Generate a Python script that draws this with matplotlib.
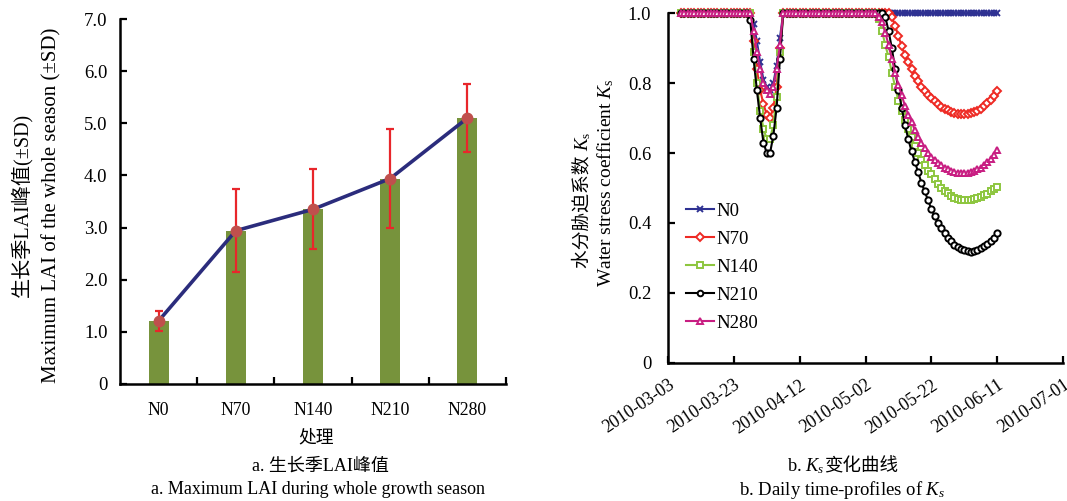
import numpy as np
import pandas as pd
import matplotlib
matplotlib.use('Agg')
import matplotlib.pyplot as plt
import matplotlib.dates as mdates

plt.rcParams['font.family'] = ['Liberation Serif', 'Noto Sans CJK SC']
plt.rcParams['mathtext.fontset'] = 'custom'
plt.rcParams['mathtext.rm'] = 'Liberation Serif'
plt.rcParams['mathtext.it'] = 'Liberation Serif:italic'

# panel a: peak LAI per treatment
treatments = ['N0', 'N70', 'N140', 'N210', 'N280']
lai_peak = [1.21, 2.94, 3.35, 3.94, 5.10]
lai_sd = [0.19, 0.80, 0.77, 0.95, 0.66]

# panel b: daily Ks, one value per day from ks_start
ks_start = '2010-03-07'
ks_n0 = [
    1.0, 1.0, 1.0, 1.0, 1.0, 1.0, 1.0,
    1.0, 1.0, 1.0, 1.0, 1.0, 1.0, 1.0,
    1.0, 1.0, 1.0, 1.0, 1.0, 1.0, 1.0,
    1.0, 0.97, 0.92, 0.86, 0.81, 0.79, 0.78, 0.80, 0.85, 0.93, 1.0,
    1.0, 1.0, 1.0, 1.0, 1.0, 1.0, 1.0, 1.0, 1.0,
    1.0, 1.0, 1.0, 1.0, 1.0, 1.0, 1.0, 1.0, 1.0,
    1.0, 1.0, 1.0, 1.0, 1.0, 1.0, 1.0, 1.0, 1.0,
    1.0, 1.0, 1.0, 1.0, 1.0, 1.0, 1.0, 1.0, 1.0, 1.0,
    1.0, 1.0, 1.0, 1.0, 1.0, 1.0, 1.0, 1.0, 1.0, 1.0,
    1.0, 1.0, 1.0, 1.0, 1.0, 1.0, 1.0, 1.0, 1.0, 1.0,
    1.0, 1.0, 1.0, 1.0, 1.0, 1.0, 1.0, 1.0,
]
ks_n70 = [
    1.0, 1.0, 1.0, 1.0, 1.0, 1.0, 1.0,
    1.0, 1.0, 1.0, 1.0, 1.0, 1.0, 1.0,
    1.0, 1.0, 1.0, 1.0, 1.0, 1.0, 1.0,
    1.0, 0.92, 0.84, 0.78, 0.74, 0.71, 0.70, 0.73, 0.79, 0.90, 1.0,
    1.0, 1.0, 1.0, 1.0, 1.0, 1.0, 1.0, 1.0, 1.0,
    1.0, 1.0, 1.0, 1.0, 1.0, 1.0, 1.0, 1.0, 1.0,
    1.0, 1.0, 1.0, 1.0, 1.0, 1.0, 1.0, 1.0, 1.0,
    1.0, 1.0, 1.0, 1.0, 1.0, 0.99, 0.965, 0.935, 0.905, 0.88,
    0.86, 0.84, 0.82, 0.805, 0.79, 0.778, 0.767, 0.757, 0.748, 0.74,
    0.733, 0.727, 0.722, 0.717, 0.714, 0.712, 0.711, 0.711, 0.712, 0.714,
    0.717, 0.721, 0.727, 0.734, 0.742, 0.751, 0.763, 0.778,
]
ks_n140 = [
    1.0, 1.0, 1.0, 1.0, 1.0, 1.0, 1.0,
    1.0, 1.0, 1.0, 1.0, 1.0, 1.0, 1.0,
    1.0, 1.0, 1.0, 1.0, 1.0, 1.0, 1.0,
    1.0, 0.89, 0.80, 0.72, 0.67, 0.64, 0.64, 0.68, 0.76, 0.89, 1.0,
    1.0, 1.0, 1.0, 1.0, 1.0, 1.0, 1.0, 1.0, 1.0,
    1.0, 1.0, 1.0, 1.0, 1.0, 1.0, 1.0, 1.0, 1.0,
    1.0, 1.0, 1.0, 1.0, 1.0, 1.0, 1.0, 1.0, 1.0,
    1.0, 0.985, 0.95, 0.91, 0.875, 0.83, 0.79, 0.75, 0.72, 0.695,
    0.67, 0.645, 0.62, 0.60, 0.58, 0.565, 0.55, 0.54, 0.525, 0.512,
    0.50, 0.492, 0.485, 0.478, 0.472, 0.468, 0.466, 0.465, 0.465, 0.466,
    0.468, 0.471, 0.475, 0.479, 0.484, 0.49, 0.496, 0.503,
]
ks_n210 = [
    1.0, 1.0, 1.0, 1.0, 1.0, 1.0, 1.0,
    1.0, 1.0, 1.0, 1.0, 1.0, 1.0, 1.0,
    1.0, 1.0, 1.0, 1.0, 1.0, 1.0, 1.0,
    0.98, 0.87, 0.78, 0.70, 0.63, 0.60, 0.60, 0.65, 0.73, 0.87, 1.0,
    1.0, 1.0, 1.0, 1.0, 1.0, 1.0, 1.0, 1.0, 1.0,
    1.0, 1.0, 1.0, 1.0, 1.0, 1.0, 1.0, 1.0, 1.0,
    1.0, 1.0, 1.0, 1.0, 1.0, 1.0, 1.0, 1.0, 1.0,
    1.0, 1.0, 1.0, 0.99, 0.95, 0.90, 0.84, 0.78, 0.73, 0.68,
    0.64, 0.605, 0.575, 0.545, 0.515, 0.49, 0.465, 0.44, 0.42, 0.40,
    0.385, 0.37, 0.357, 0.347, 0.338, 0.331, 0.326, 0.322, 0.319, 0.318,
    0.319, 0.322, 0.327, 0.333, 0.34, 0.348, 0.358, 0.37,
]
ks_n280 = [
    1.0, 1.0, 1.0, 1.0, 1.0, 1.0, 1.0,
    1.0, 1.0, 1.0, 1.0, 1.0, 1.0, 1.0,
    1.0, 1.0, 1.0, 1.0, 1.0, 1.0, 1.0,
    1.0, 0.95, 0.89, 0.84, 0.80, 0.78, 0.77, 0.79, 0.84, 0.91, 1.0,
    1.0, 1.0, 1.0, 1.0, 1.0, 1.0, 1.0, 1.0, 1.0,
    1.0, 1.0, 1.0, 1.0, 1.0, 1.0, 1.0, 1.0, 1.0,
    1.0, 1.0, 1.0, 1.0, 1.0, 1.0, 1.0, 1.0, 1.0,
    1.0, 0.99, 0.975, 0.945, 0.91, 0.87, 0.83, 0.795, 0.765, 0.735,
    0.71, 0.69, 0.665, 0.645, 0.63, 0.615, 0.60, 0.59, 0.58, 0.572,
    0.565, 0.558, 0.553, 0.549, 0.546, 0.544, 0.543, 0.543, 0.544, 0.546,
    0.549, 0.553, 0.558, 0.565, 0.573, 0.583, 0.595, 0.61,
]
date_ticks = ['2010-03-03', '2010-03-23', '2010-04-12', '2010-05-02',
              '2010-05-22', '2010-06-11', '2010-07-01']

W, H = 1067, 501
fig = plt.figure(figsize=(W / 100, H / 100), dpi=100)


def px_axes(x0, y0, x1, y1):
    # axes from pixel box (left, top, right, bottom)
    return fig.add_axes([x0 / W, 1 - y1 / H, (x1 - x0) / W, (y1 - y0) / H])


# ---------- panel a ----------
ax1 = px_axes(120, 19, 506, 384)
x = np.arange(len(treatments))
ax1.bar(x, lai_peak, width=0.26, color='#77933C', zorder=1)
ax1.plot(x, lai_peak, color='#2B2C7C', lw=2.6, zorder=2)
ax1.errorbar(x, lai_peak, yerr=lai_sd, fmt='none', ecolor='#E8262B',
             elinewidth=1.6, capsize=2.8, capthick=1.6, zorder=3)
ax1.plot(x, lai_peak, 'o', color='#C0504D', ms=7.5, zorder=4)

ax1.set_xlim(-0.5, len(treatments) - 0.5)
ax1.set_ylim(0, 7)
ax1.set_yticks(np.arange(0, 8))
ax1.set_yticklabels(['0'] + ['%.1f' % v for v in range(1, 8)])
ax1.set_xticks(x)
ax1.set_xticklabels(treatments)
ax1.set_xticks(x + 0.5, minor=True)
ax1.tick_params(axis='x', which='major', length=0, pad=13, labelsize=12.8)
ax1.tick_params(axis='x', which='minor', direction='in', length=5, width=1.6)
ax1.tick_params(axis='y', direction='in', length=5, width=1.6, pad=9, labelsize=13.5)
for s in ['top', 'right']:
    ax1.spines[s].set_visible(False)
for s in ['left', 'bottom']:
    ax1.spines[s].set_linewidth(1.8)

fig.text(22 / W, 1 - 205 / H, '生长季LAI峰值(±SD)', rotation=90,
         ha='center', va='center', fontsize=14.5)
fig.text(52 / W, 1 - 205 / H, 'Maximum LAI of the whole season (±SD)', rotation=90,
         ha='center', va='center', fontsize=15)
fig.text(316 / W, 1 - 438 / H, '处理', ha='center', va='center', fontsize=12.8)
fig.text(320 / W, 1 - 466 / H, 'a. 生长季LAI峰值', ha='center', va='center', fontsize=13)
fig.text(318 / W, 1 - 490 / H, 'a. Maximum LAI during whole growth season',
         ha='center', va='center', fontsize=13)

# ---------- panel b ----------
ax2 = px_axes(668, 13.3, 1063, 362.7)
dates = pd.date_range(ks_start, periods=len(ks_n0), freq='D')
series = [
    ('N0', ks_n0, '#2E3192', 'x', 4.5),
    ('N70', ks_n70, '#EE2A24', 'D', 4),
    ('N140', ks_n140, '#8DC63F', 's', 4.5),
    ('N210', ks_n210, '#000000', 'o', 4.5),
    ('N280', ks_n280, '#C81E82', '^', 5),
]
for name, vals, col, mk, ms in series:
    face = col if mk == 'x' else 'white'
    ax2.plot(dates, vals, color=col, lw=1.5, marker=mk, ms=ms,
             mfc=face, mec=col, mew=1.4, label=name, clip_on=False)

ax2.set_xlim(pd.Timestamp(date_ticks[0]), pd.Timestamp(date_ticks[-1]))
ax2.set_ylim(0, 1.0)
ax2.set_xticks(pd.to_datetime(date_ticks))
ax2.xaxis.set_major_formatter(mdates.DateFormatter('%Y-%m-%d'))
ax2.set_yticks([0, 0.2, 0.4, 0.6, 0.8, 1.0])
ax2.set_yticklabels(['0', '0.2', '0.4', '0.6', '0.8', '1.0'])
ax2.tick_params(axis='x', direction='in', length=5, width=1.6, pad=10, labelsize=12.8)
ax2.tick_params(axis='y', direction='in', length=5, width=1.6, pad=12, labelsize=13.3)
for lab in ax2.get_xticklabels():
    lab.set_rotation(34)
    lab.set_ha('right')
    lab.set_rotation_mode('anchor')
for s in ['top', 'right']:
    ax2.spines[s].set_visible(False)
for s in ['left', 'bottom']:
    ax2.spines[s].set_linewidth(1.8)

ax2.legend(loc='upper left', bbox_to_anchor=(677 / W, 1 - 193 / H),
           bbox_transform=fig.transFigure, frameon=False, fontsize=13.5,
           handlelength=1.45, handletextpad=0.15, labelspacing=0.58,
           borderpad=0, markerscale=0.9)

# texts that mix CJK and Ks: chain a plain CJK piece and a mathtext piece
t = fig.text(583 / W, 1 - 268 / H, '水分胁迫系数 ', rotation=90,
             ha='center', va='bottom', fontsize=13.5)
fig.add_artist(matplotlib.text.Annotation(
    '$K_\\mathrm{s}$', xy=(583 / W, 1), xycoords=('figure fraction', t),
    rotation=90, ha='center', va='bottom', fontsize=13.5))
fig.text(606 / W, 1 - 183 / H, 'Water stress coefficient $K_\\mathrm{s}$', rotation=90,
         ha='center', va='center', fontsize=14)

t = fig.text(787 / W, 1 - 471 / H, 'b. $K_s$', ha='left', va='baseline', fontsize=13.3)
fig.add_artist(matplotlib.text.Annotation(
    '变化曲线', xy=(1, 1 - 471 / H), xycoords=(t, 'figure fraction'),
    ha='left', va='baseline', fontsize=13.3))
fig.text(842 / W, 1 - 490 / H, 'b. Daily time-profiles of $K_s$',
         ha='center', va='center', fontsize=13.5)

fig.savefig('out.png', dpi=100)
